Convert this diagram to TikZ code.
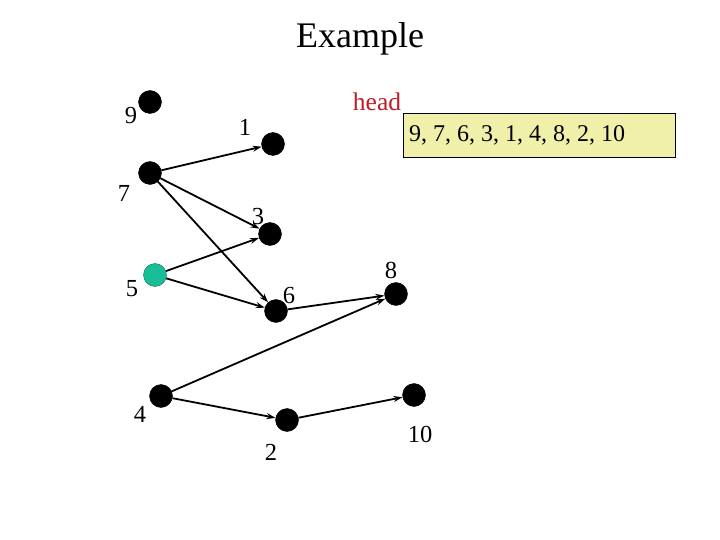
\documentclass[tikz,border=0pt]{standalone}
\usepackage{fontspec}
\setmainfont{Liberation Serif}
\usetikzlibrary{arrows.meta}
\definecolor{teal5}{RGB}{26,190,150}
\definecolor{boxyellow}{RGB}{240,240,170}
\definecolor{headred}{RGB}{190,30,40}
\begin{document}
\begin{tikzpicture}[x=1pt,y=-1pt,
  vert/.style={circle,fill=black,draw=black,inner sep=0pt,minimum size=23pt},
  lbl/.style={font=\fontsize{24.5}{28}\selectfont,inner sep=0pt},
  edge/.style={-{Stealth[length=9pt,width=6pt]},line width=1.8pt}]
\useasboundingbox (0,0) rectangle (720,540);
\node[font=\fontsize{36}{40}\selectfont] (title) at (360,39) {Example};
\node[vert] (n9) at (150,102) {};
\node[vert] (n1) at (273,144) {};
\node[vert] (n7) at (150,173) {};
\node[vert] (n3) at (270,234) {};
\node[vert,fill=teal5,draw=teal5!60!black] (n5) at (155,275) {};
\node[vert] (n6) at (276,311) {};
\node[vert] (n8) at (396,294) {};
\node[vert] (n4) at (161,396) {};
\node[vert] (n2) at (287,420) {};
\node[vert] (n10) at (414,395) {};
\node[lbl] (l9) at (131,116) {9};
\node[lbl] (l1) at (245,127) {1};
\node[lbl] (l7) at (124,193) {7};
\node[lbl] (l3) at (258,217) {3};
\node[lbl] (l5) at (132,289) {5};
\node[lbl] (l6) at (289,296) {6};
\node[lbl] (l8) at (391,270) {8};
\node[lbl] (l4) at (140,414) {4};
\node[lbl] (l2) at (271,452) {2};
\node[lbl] (l10) at (420,434) {10};
\node[lbl,text=headred,font=\fontsize{25.5}{28}\selectfont] (head) at (377,102) {head};
\node[draw=black,fill=boxyellow,line width=1pt,minimum width=272pt,minimum height=44pt,
  anchor=north west,inner sep=0pt] (box) at (403,113) {};
\node[lbl,anchor=west,font=\fontsize{24}{28}\selectfont] (list) at (409,135) {9, 7, 6, 3, 1, 4, 8, 2, 10};
\draw[edge] (n7) -- (n1);
\draw[edge] (n7) -- (n3);
\draw[edge] (n7) -- (n6);
\draw[edge] (n5) -- (n3);
\draw[edge] (n5) -- (n6);
\draw[edge] (n6) -- (n8);
\draw[edge] (n4) -- (n8);
\draw[edge] (n4) -- (n2);
\draw[edge] (n2) -- (n10);
\end{tikzpicture}
\end{document}
